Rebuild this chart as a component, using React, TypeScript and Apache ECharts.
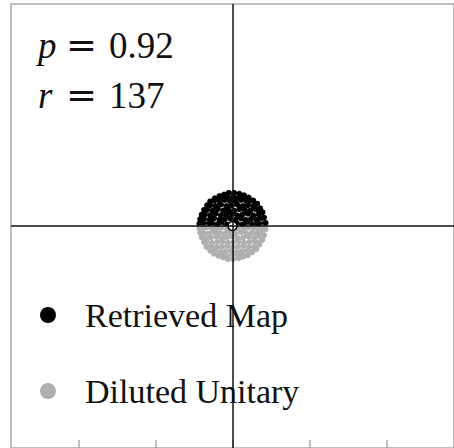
import { useEffect, useRef } from "react";
import * as echarts from "echarts";

// Retrieved map samples (upper half of the disk)
const retrievedMap: [number, number][] = [
  [-39, 3], [-33, 2], [-27, 4], [-20, 2], [-14, 3], [-7, 2], [6, 3], [13, 2], [19, 4], [26, 2], [33, 3], [38, 2],
  [-37, 9], [-30, 8], [-24, 10], [-17, 8], [-10, 9], [-3, 10], [4, 8], [11, 10], [17, 8], [24, 9], [31, 8], [37, 10],
  [-36, 15], [-29, 14], [-22, 16], [-15, 14], [-8, 15], [-1, 16], [6, 14], [13, 15], [20, 16], [27, 14], [34, 15],
  [-33, 21], [-26, 20], [-19, 22], [-12, 20], [-5, 21], [2, 20], [9, 22], [16, 21], [23, 20], [30, 22], [34, 20],
  [-29, 27], [-22, 26], [-15, 28], [-8, 26], [-1, 27], [6, 28], [13, 26], [20, 27], [27, 26],
  [-24, 33], [-17, 32], [-10, 34], [-3, 32], [4, 33], [11, 34], [18, 32], [23, 33],
  [-13, 38], [-6, 37], [1, 38], [8, 37], [14, 36],
  [43, 4], [41, 11], [39, 18], [36, 23], [32, 29], [27, 33], [21, 37], [15, 40], [9, 42], [2, 43],
  [-5, 43], [-11, 41], [-17, 39], [-23, 36], [-29, 32], [-33, 27], [-37, 21], [-40, 15], [-42, 9], [-43, 3],
];

// Diluted unitary samples (lower half of the disk)
const dilutedUnitary: [number, number][] = [
  [-40, -3], [-34, -2], [-27, -3], [-21, -4], [-14, -2], [-7, -4], [7, -3], [14, -4], [20, -2], [27, -3], [34, -4], [39, -2],
  [-38, -9], [-31, -10], [-24, -8], [-17, -9], [-10, -10], [-3, -9], [4, -10], [11, -8], [18, -10], [25, -9], [31, -10], [38, -8],
  [-35, -16], [-28, -15], [-21, -14], [-14, -16], [-7, -15], [0, -14], [7, -16], [14, -15], [21, -14], [28, -16], [35, -14],
  [-34, -20], [-27, -22], [-20, -21], [-13, -20], [-6, -22], [1, -21], [8, -20], [15, -22], [22, -21], [29, -20], [33, -22],
  [-28, -26], [-21, -28], [-14, -27], [-7, -26], [0, -28], [7, -27], [14, -26], [21, -28], [28, -27],
  [-23, -32], [-16, -34], [-9, -33], [-2, -32], [5, -34], [12, -33], [19, -32], [24, -34],
  [-14, -37], [-7, -39], [0, -37], [7, -38], [13, -38],
  [43, -4], [41, -12], [39, -18], [35, -24], [31, -30], [26, -34], [20, -38], [14, -40], [8, -42], [1, -43],
  [-6, -43], [-12, -41], [-18, -39], [-24, -36], [-29, -32], [-34, -27], [-37, -21], [-40, -15], [-42, -9], [-43, -3],
];

const centrePoint: [number, number][] = [[0, 0]];

const xTicks = [-200, -100, 0, 100, 200];
const xRange: [number, number] = [-288, 288];
const yRange: [number, number] = [-289, 289];

const pValue = "0.92";
const rValue = "137";

const SERIF = "Liberation Serif";

export default function App() {
  const ref = useRef<HTMLDivElement>(null);

  useEffect(() => {
    if (!ref.current) return;
    const chart = echarts.init(ref.current, undefined, { renderer: "svg" });

    const txt = (text: string, x: number, y: number, font: string) => ({
      type: "text",
      x,
      y,
      z: 10,
      style: {
        text,
        font,
        fill: "#111",
        align: "left",
        verticalAlign: "middle",
      },
    });

    // math annotations: italic symbol, equals sign, value
    const mathLine = (name: string, value: string, y: number) => [
      txt(name, 38, y, "italic 37px 'Liberation Serif', serif"),
      txt("=", 66, y, "37px 'DejaVu Serif', serif"),
      txt(value, 109, y, "37px 'Liberation Serif', serif"),
    ];

    chart.setOption({
      animation: false,
      backgroundColor: "#fff",
      grid: {
        left: 11,
        top: 4,
        width: 444,
        height: 446,
        show: true,
        borderColor: "#aaa",
        borderWidth: 1.5,
        backgroundColor: "transparent",
      },
      xAxis: {
        type: "value",
        min: xRange[0],
        max: xRange[1],
        splitLine: { show: false },
        axisLine: { show: false, onZero: false },
        axisLabel: { show: false },
        axisTick: {
          show: true,
          inside: true,
          length: 8,
          customValues: xTicks,
          lineStyle: { color: "#aaa", width: 1.5 },
        },
      },
      yAxis: {
        type: "value",
        min: yRange[0],
        max: yRange[1],
        show: false,
        splitLine: { show: false },
      },
      legend: {
        data: ["Retrieved Map", "Diluted Unitary"],
        orient: "vertical",
        left: 40,
        top: 298,
        padding: 0,
        itemWidth: 16,
        itemHeight: 16,
        itemGap: 42,
        icon: "circle",
        textStyle: {
          fontFamily: SERIF,
          fontSize: 34,
          color: "#111",
          lineHeight: 32,
          padding: [0, 0, 0, 24],
        },
      },
      graphic: [...mathLine("p", pValue, 45), ...mathLine("r", rValue, 95)],
      series: [
        {
          name: "Retrieved Map",
          type: "scatter",
          data: retrievedMap,
          symbolSize: 6,
          itemStyle: { color: "#000", opacity: 1 },
          z: 2,
        },
        {
          name: "Diluted Unitary",
          type: "scatter",
          data: dilutedUnitary,
          symbolSize: 6,
          itemStyle: { color: "#b0b0b0", opacity: 1 },
          z: 2,
        },
        {
          name: "centre",
          type: "scatter",
          data: centrePoint,
          symbol: "circle",
          symbolSize: 9,
          itemStyle: { color: "#fff", borderColor: "#000", borderWidth: 1.5, opacity: 1 },
          z: 3,
        },
        {
          name: "axes",
          type: "scatter",
          data: [],
          z: 6,
          markLine: {
            silent: true,
            symbol: "none",
            label: { show: false },
            lineStyle: { color: "#111", width: 1.5, type: "solid" },
            data: [{ xAxis: 0 }, { yAxis: 0 }],
          },
        },
      ],
    });

    return () => chart.dispose();
  }, []);

  return (
    <div
      ref={ref}
      style={{ position: "fixed", left: 0, top: 0, width: 454, height: 448 }}
    />
  );
}
